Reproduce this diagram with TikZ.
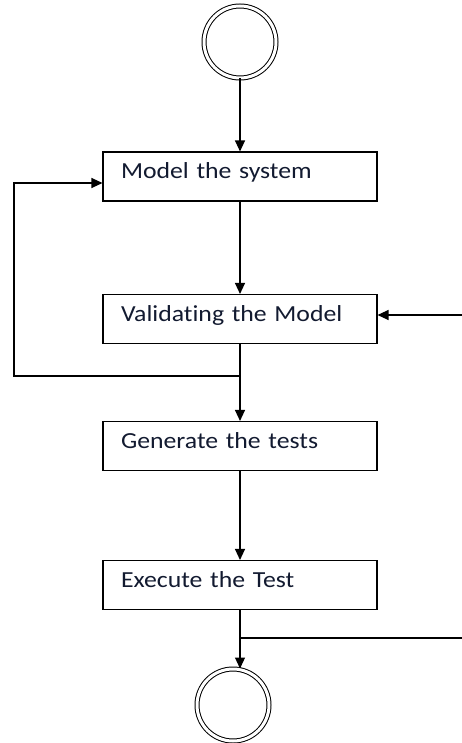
\documentclass[tikz,border=0pt]{standalone}
\usepackage{fontspec}
\setmainfont{Carlito}[FakeStretch=1.12,Ligatures=NoCommon]
\usetikzlibrary{arrows.meta}
\definecolor{mytext}{HTML}{121A30}

\begin{document}
\begin{tikzpicture}[x=1pt,y=-1pt,
                    every node/.style={font=\fontsize{23}{27}\selectfont, text=mytext},
                    terminal/.style={circle,draw,double,double distance=3pt,line width=1pt,minimum size=72pt,inner sep=0pt},
                    activity/.style={draw,line width=1.1pt,text width=238pt,inner xsep=18pt,minimum height=49pt,
                                     text height=14pt,text depth=9pt,align=left},
                    flow/.style={line width=1.2pt,-{Triangle[length=11pt,width=10pt]}},
                    plain/.style={line width=1.2pt}]
\useasboundingbox (0,0) rectangle (462,743);
\node[terminal] (start) at (240,42) {};
\node[activity] (model) at (240,176.5) {Model the system};
\node[activity] (valid) at (240,319) {Validating the Model};
\node[activity] (gen)   at (240,446) {Generate the tests};
\node[activity] (exec)  at (240,585) {Execute the Test};
\node[terminal] (stop)  at (233,705) {};
\coordinate (fork) at (240,376);
\coordinate (back) at (14,376);
\coordinate (inR)  at (462,315);
\coordinate (outR) at (462,638);

\draw[flow] (start) -- (model.north);
\draw[flow] (model) -- (valid.north);
\draw[flow] (inR) -- (inR -| valid.east);
\draw[plain] (valid.south) -- (fork);
\draw[flow] (fork) -- (back) |- ([yshift=-6.5pt]model.west);
\draw[flow] (fork) -- (gen.north);
\draw[flow] (gen) -- (exec.north);
\draw[flow] (exec.south) -- (exec.south |- stop.north);
\draw[plain] (exec.south |- outR) -- (outR);
\end{tikzpicture}
\end{document}
